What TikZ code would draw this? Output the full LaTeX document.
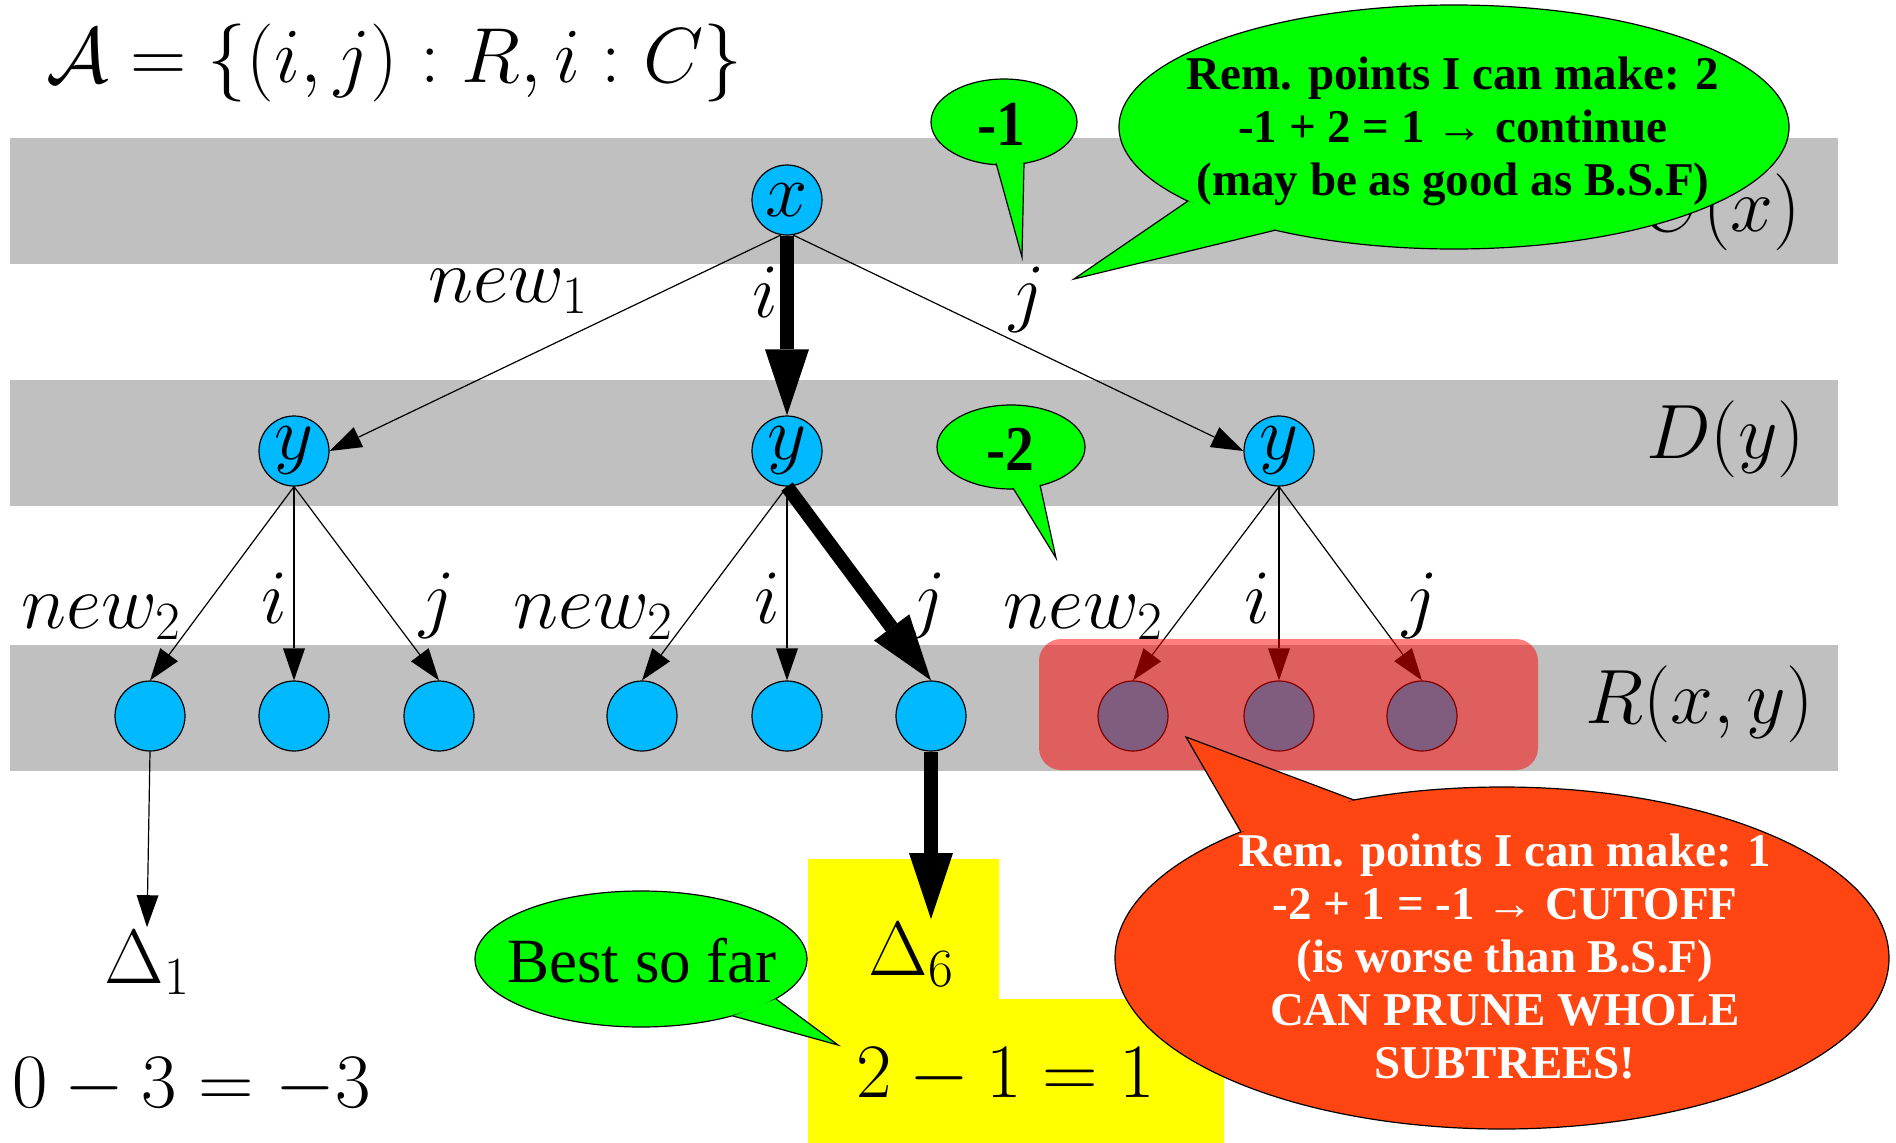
\RequirePackage{fix-cm}
\documentclass[tikz,border=0pt]{standalone}
\usepackage{fontspec}
\newfontfamily\tnr{Liberation Serif}
\newfontfamily\tnrn[FakeStretch=0.9]{Liberation Serif}
\usetikzlibrary{arrows.meta,shapes.geometric}
\definecolor{band}{RGB}{192,192,192}
\definecolor{nodeblue}{RGB}{0,185,255}
\definecolor{bgreen}{RGB}{0,255,0}
\definecolor{borange}{RGB}{255,69,17}
\definecolor{byellow}{RGB}{255,255,0}
\tikzset{
  tn/.style={circle, draw, line width=1.2pt, fill=nodeblue, minimum size=70pt, inner sep=0pt, font=\fontsize{76}{80}\selectfont},
  lab/.style={inner sep=0pt, font=\fontsize{77}{80}\selectfont},
  thinarr/.style={line width=1.2pt, -{Triangle[length=32pt,width=22pt,line width=0pt]}},
  thickarr/.style={line width=14pt, -{Triangle[length=66pt,width=44pt,line width=0pt]}},
  bubble/.style={ellipse, draw, line width=1.2pt, inner sep=0pt},
  bline/.style={line width=1.2pt, line join=miter},
  btext/.style={align=center, inner sep=0pt, font=\fontsize{47}{53}\selectfont\tnr\bfseries},
  numtext/.style={inner sep=0pt, anchor=base, font=\fontsize{64}{64}\selectfont\tnrn\bfseries},
  prunebox/.style={fill=red, fill opacity=0.5, rounded corners=22pt, inner sep=0pt, minimum width=499pt, minimum height=131pt}
}
\begin{document}
\begin{tikzpicture}[x=1pt,y=-1pt]
\useasboundingbox (0,0) rectangle (1896,1143);
% bands
\fill[band] (10,138) rectangle (1838,264);
\fill[band] (10,380) rectangle (1838,506);
\fill[band] (10,645) rectangle (1838,771);
% yellow region
\fill[byellow] (808,859) -- (999,859) -- (999,999) -- (1224,999) -- (1224,1143) -- (808,1143) -- cycle;
% level labels
\node[lab, font=\fontsize{78}{80}\selectfont, anchor=base west] (A) at (46,82) {$\mathcal{A}=\{(i,j):R,i:C\}$};
\node[lab, anchor=base east] (Cx) at (1801,231) {$C(x)$};
\node[lab, anchor=base east] (Dy) at (1805,458) {$D(y)$};
\node[lab, anchor=base east] (Rxy) at (1814,723) {$R(x,y)$};
% edge labels
\node[lab, anchor=base] (l1) at (508,302) {$new_1$};
\node[lab, anchor=base] (l2) at (765,317) {$i$};
\node[lab, anchor=base] (l3) at (1027,317) {$j$};
\node[lab, anchor=base] (m1) at (101,628) {$new_2$};
\node[lab, anchor=base] (m2) at (274,623) {$i$};
\node[lab, anchor=base] (m3) at (437,623) {$j$};
\node[lab, anchor=base] (m4) at (593,628) {$new_2$};
\node[lab, anchor=base] (m5) at (767,623) {$i$};
\node[lab, anchor=base] (m6) at (928,623) {$j$};
\node[lab, anchor=base] (m7) at (1083,628) {$new_2$};
\node[lab, anchor=base] (m8) at (1257,623) {$i$};
\node[lab, anchor=base] (m9) at (1420,623) {$j$};
% tree nodes
\node[tn] (x) at (787,200) {$x$};
\node[tn] (yL) at (294,451) {$y$};
\node[tn] (yM) at (787,451) {$y$};
\node[tn] (yR) at (1279,451) {$y$};
\node[tn] (a1) at (150,716) {};
\node[tn] (a2) at (294,716) {};
\node[tn] (a3) at (439,716) {};
\node[tn] (b1) at (642,716) {};
\node[tn] (b2) at (787,716) {};
\node[tn] (b3) at (931,716) {};
\node[tn] (c1) at (1133,716) {};
\node[tn] (c2) at (1279,716) {};
\node[tn] (c3) at (1422,716) {};
% results
\node[lab, inner sep=3pt, anchor=base] (D1) at (147,983) {$\Delta_1$};
\node[lab, inner sep=3pt, anchor=base] (D6) at (911,975) {$\Delta_6$};
\node[lab, anchor=base west] (e1) at (12,1107) {$0-3=-3$};
\node[lab, anchor=base] (e6) at (1006,1097) {$2-1=1$};
% edges
\draw[thinarr] (x.-100) -- (yL.east);
\draw[thinarr] (x.-80) -- (yR.west);
\draw[thickarr] (x.south) -- (yM.north);
\draw[thinarr] (yL.south) -- (a1.north);
\draw[thinarr] (yL.south) -- (a2.north);
\draw[thinarr] (yL.south) -- (a3.north);
\draw[thinarr] (yM.south) -- (b1.north);
\draw[thinarr] (yM.south) -- (b2.north);
\draw[thickarr] (yM.south) -- (b3.north);
\draw[thinarr] (yR.south) -- (c1.north);
\draw[thinarr] (yR.south) -- (c2.north);
\draw[thinarr] (yR.south) -- (c3.north);
\draw[thinarr] (a1.south) -- (D1.north);
\draw[thickarr] (b3.south) -- (b3.south |- D6.north);
% pruned region
\node[prunebox] (cut) at (1288.5,704.5) {};
% bubble -1
\node[bubble, fill=bgreen, minimum width=146pt, minimum height=86pt] (g1) at (1004,122) {};
\fill[bgreen] (996,163) -- (1022,257) -- (1024,163) -- cycle;
\draw[bline] (996,163) -- (1022,257) -- (1024,163);
\node[numtext] (g1t) at (1001,145) {-1};
% bubble -2
\node[bubble, fill=bgreen, minimum width=148pt, minimum height=84pt] (g2) at (1011,447) {};
\fill[bgreen] (1013,488) -- (1056,558) -- (1040,485) -- cycle;
\draw[bline] (1013,488) -- (1056,558) -- (1040,485);
\node[numtext] (g2t) at (1010,470) {-2};
% big green bubble
\node[bubble, fill=bgreen, minimum width=670pt, minimum height=244pt] (g3) at (1454,127) {};
\fill[bgreen] (1188,201) -- (1074,279) -- (1276,230) -- cycle;
\draw[bline] (1188,201) -- (1074,279) -- (1276,230);
\node[btext] (g3t) at (1453,131) {Rem. points I can make: 2\\-1 + 2 = 1 → continue\\(may be as good as B.S.F)};
% best so far bubble
\node[bubble, fill=bgreen, minimum width=332pt, minimum height=136pt] (g4) at (641,959) {};
\fill[bgreen] (776,999) -- (838,1045) -- (733,1016) -- cycle;
\draw[bline] (776,999) -- (838,1045) -- (733,1016);
\node[inner sep=0pt, anchor=base, font=\fontsize{63}{63}\selectfont\tnr] (g4t) at (642,982) {Best so far};
% orange bubble
\node[bubble, fill=borange, minimum width=774pt, minimum height=342pt] (o1) at (1502,958) {};
\fill[borange] (1241,832) -- (1186,737) -- (1354,800) -- cycle;
\draw[bline] (1241,832) -- (1186,737) -- (1354,800);
\node[btext, text=white] (o1t) at (1505,957) {Rem. points I can make: 1\\-2 + 1 = -1 → CUTOFF\\(is worse than B.S.F)\\CAN PRUNE WHOLE\\SUBTREES!};
\end{tikzpicture}
\end{document}
